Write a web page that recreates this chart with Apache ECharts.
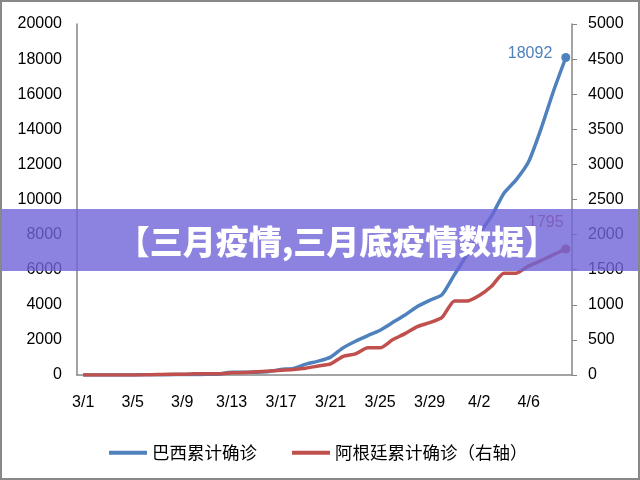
<!DOCTYPE html>
<html>
<head>
<meta charset="utf-8">
<script src="https://cdn.jsdelivr.net/npm/echarts@6/dist/echarts.min.js"></script>
<style>
  html, body { margin: 0; padding: 0; background: #fff; }
  #chart { width: 640px; height: 480px; }
</style>
</head>
<body>
<div id="chart"></div>
<script>
/* data */
var days = ['3/1','3/2','3/3','3/4','3/5','3/6','3/7','3/8','3/9','3/10',
  '3/11','3/12','3/13','3/14','3/15','3/16','3/17','3/18','3/19','3/20',
  '3/21','3/22','3/23','3/24','3/25','3/26','3/27','3/28','3/29','3/30',
  '3/31','4/1','4/2','4/3','4/4','4/5','4/6','4/7','4/8','4/9'];
var brazil = [2, 2, 2, 4, 4, 13, 13, 20, 25, 31,
  38, 52, 151, 151, 162, 200, 321, 372, 621, 793,
  1021, 1546, 1924, 2247, 2554, 2985, 3417, 3904, 4256, 4579,
  5717, 6836, 8044, 9056, 10360, 11130, 12161, 14034, 16170, 18092];
var argentina = [0, 0, 1, 1, 1, 2, 8, 12, 12, 17,
  19, 19, 31, 34, 45, 56, 68, 79, 97, 128,
  158, 266, 301, 387, 387, 502, 589, 690, 745, 820,
  1054, 1054, 1133, 1265, 1451, 1451, 1554, 1628, 1715, 1795];
var seriesNames = ['巴西累计确诊', '阿根廷累计确诊（右轴）'];
var bannerText = '【三月疫情,三月底疫情数据】';

var blue = '#4f81bd';
var red = '#c0504d';
var axisGray = '#868686';
var fontFam = '"Liberation Sans", Arial, sans-serif';
var cjk = '"Noto Sans CJK SC", sans-serif';

function plain(v) { return String(v); }

function lastMarked(arr, labelOpt) {
  return arr.map(function (v, i) {
    if (i !== arr.length - 1) return v;
    return { value: v, symbol: 'circle', symbolSize: 9, label: labelOpt };
  });
}

var option = {
  animation: false,
  grid: { left: 77, right: 68, top: 24, bottom: 105 },
  legend: {
    data: seriesNames,
    left: 104,
    top: 439,
    icon: 'rect',
    itemWidth: 38,
    itemHeight: 4,
    itemGap: 35,
    textStyle: { fontFamily: cjk, fontSize: 17.5, color: '#000' }
  },
  xAxis: {
    type: 'category',
    data: days,
    boundaryGap: true,
    axisLine: { lineStyle: { color: axisGray, width: 1.5 } },
    axisTick: { show: false },
    axisLabel: { interval: 3, margin: 20, fontSize: 16, color: '#000', fontFamily: fontFam }
  },
  yAxis: [
    {
      type: 'value', min: 0, max: 20000, interval: 2000,
      axisLine: { show: true, lineStyle: { color: axisGray, width: 1.5 } },
      axisTick: { show: false },
      splitLine: { show: false },
      axisLabel: { margin: 15, fontSize: 16, color: '#000', fontFamily: fontFam, formatter: plain }
    },
    {
      type: 'value', min: 0, max: 5000, interval: 500, position: 'right',
      axisLine: { show: true, lineStyle: { color: axisGray, width: 1.5 } },
      axisTick: { show: true, length: 5, lineStyle: { color: axisGray } },
      splitLine: { show: false },
      axisLabel: { margin: 16, fontSize: 16, color: '#000', fontFamily: fontFam, formatter: plain }
    }
  ],
  series: [
    {
      name: seriesNames[0],
      type: 'line',
      yAxisIndex: 0,
      smooth: 0.2,
      symbol: 'none',
      lineStyle: { color: blue, width: 3.5 },
      itemStyle: { color: blue },
      data: lastMarked(brazil, {
        show: true, position: 'left', distance: 9, offset: [0, -4],
        color: blue, fontSize: 16, fontFamily: fontFam
      })
    },
    {
      name: seriesNames[1],
      type: 'line',
      yAxisIndex: 1,
      smooth: 0.2,
      symbol: 'none',
      lineStyle: { color: red, width: 3.5 },
      itemStyle: { color: red },
      data: lastMarked(argentina, {
        show: true, position: 'top', distance: 5, offset: [-20, -9],
        color: red, fontSize: 16, fontFamily: fontFam
      })
    }
  ],
  graphic: [
    {
      type: 'rect', z: 100,
      shape: { x: 0, y: 209, width: 640, height: 62 },
      style: { fill: 'rgba(110,100,215,0.8)' }
    },
    {
      type: 'text', z: 101,
      x: 337, y: 241,
      style: {
        text: bannerText, fill: '#fff',
        font: '900 33px "Noto Sans CJK SC", sans-serif',
        textAlign: 'center', textVerticalAlign: 'middle'
      }
    },
    {
      type: 'rect', z: 102,
      shape: { x: 1, y: 1, width: 638, height: 478 },
      style: { fill: null, stroke: '#888', lineWidth: 2 }
    }
  ]
};

var chart = echarts.init(document.getElementById('chart'));
chart.setOption(option);
</script>
</body>
</html>
